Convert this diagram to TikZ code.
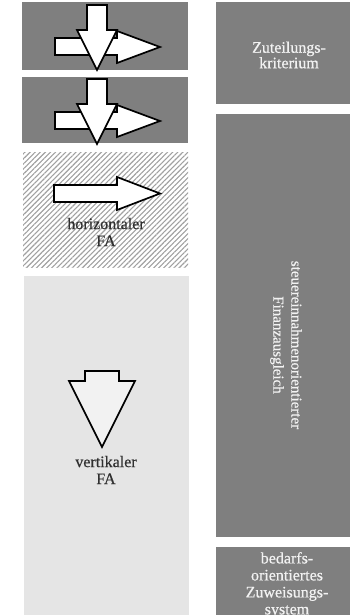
\documentclass[tikz,border=0pt]{standalone}
\usepackage{fontspec}
\setmainfont{Liberation Serif}[FakeBold=0.4]
\newfontfamily\labelfont{Liberation Serif}[FakeBold=0.6]
\usetikzlibrary{patterns.meta}
\definecolor{boxgray}{HTML}{7F7F7F}
\definecolor{lightbox}{HTML}{E5E5E5}
\definecolor{hatchgray}{HTML}{A0A0A0}
\definecolor{paletext}{HTML}{F2F2F2}
\definecolor{darktext}{HTML}{303030}
\tikzset{
  panel/.style={draw=none, inner sep=0pt, outer sep=0pt},
  darkpanel/.style={panel, fill=boxgray},
  lightpanel/.style={panel, fill=lightbox},
  hatchpanel/.style={panel, fill=white,
    pattern={Lines[angle=45,distance=3.6pt,line width=1.1pt]}, pattern color=hatchgray},
  blockarrow/.style={draw=black, line width=1.7pt, line join=miter, fill=white},
  lbl/.style={align=center, inner sep=0pt, font=\labelfont\fontsize{16}{17}\selectfont},
  whitelbl/.style={lbl, text=paletext},
  darklbl/.style={lbl, text=darktext},
}
\begin{document}
\begin{tikzpicture}[x=1pt,y=-1pt]
\useasboundingbox (0,0) rectangle (350,615);
\begin{scope}
\clip (0,0) rectangle (350,615);

% left column panels
\path[darkpanel]  (22,2)   rectangle (188,70)  coordinate (p1);
\path[darkpanel]  (22,77)  rectangle (188,143) coordinate (p2);
\path[hatchpanel] (23,152) rectangle (188,267) coordinate (p3);
\path[lightpanel] (24,276) rectangle (189,620) coordinate (p4);

% right column panels
\path[darkpanel] (216,2)   rectangle (362,104) coordinate (q1);
\path[darkpanel] (216,114) rectangle (362,537) coordinate (q2);
\path[darkpanel] (216,547) rectangle (362,620) coordinate (q3);

% crossed arrows in the two upper panels
\foreach \dy in {0,74}{
  \begin{scope}[yshift=-\dy pt]
    \draw[blockarrow] (55,38) -- (117,38) -- (117,31) -- (160,47)
      -- (117,63) -- (117,55) -- (55,55) -- cycle;
    \draw[blockarrow] (87,5) -- (107,5) -- (107,30) -- (117,30)
      -- (97,70) -- (77,30) -- (87,30) -- cycle;
  \end{scope}
}

% horizontal arrow
\draw[blockarrow] (54,185) -- (117,185) -- (117,177) -- (160,193.5)
  -- (117,210) -- (117,202) -- (54,202) -- cycle;

% vertical arrow
\draw[blockarrow, fill=paletext] (85,371) -- (119,371) -- (119,381) -- (135,381)
  -- (102,447) -- (69,381) -- (85,381) -- cycle;

% labels
\node[darklbl] (hfa) at (106,232) {horizontaler\\FA};
\node[darklbl] (vfa) at (106,470) {vertikaler\\FA};
\node[whitelbl, font=\labelfont\fontsize{16}{15.5}\selectfont] (zut) at (289,55) {Zuteilungs-\\kriterium};
\node[whitelbl, rotate=-90, font=\labelfont\fontsize{15}{18}\selectfont] (stf) at (286,345)
  {steuereinnahmenorientierter\\Finanzausgleich};
\node[whitelbl] (bzs) at (287,585) {bedarfs-\\orientiertes\\Zuweisungs-\\system};
\end{scope}
\end{tikzpicture}
\end{document}
